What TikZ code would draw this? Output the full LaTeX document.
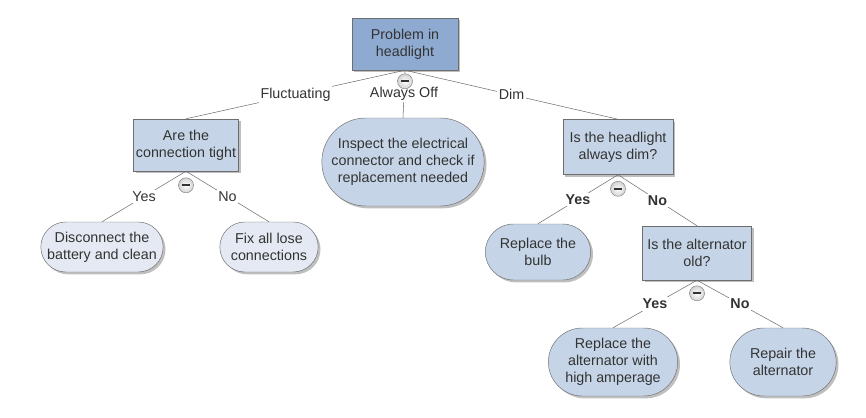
\documentclass[tikz,border=0pt]{standalone}
\usepackage{fontspec}
\setmainfont{Liberation Sans}
\usepackage{tikz}
\usetikzlibrary{positioning,calc,shapes.misc,shadows}
\definecolor{rootblue}{RGB}{142,170,208}
\definecolor{paleblue}{RGB}{197,213,231}
\definecolor{lightblue}{RGB}{228,233,243}
\definecolor{edgegray}{RGB}{110,110,110}
\definecolor{textgray}{RGB}{51,51,51}
\tikzstyle{boxshadow} = [drop shadow={shadow xshift=2pt, shadow yshift=-2pt, fill=black, opacity=0.25}]
\tikzstyle{rootbox} = [rectangle, draw=edgegray, fill=rootblue, boxshadow, text=textgray, align=center, inner sep=2pt]
\tikzstyle{question} = [rectangle, draw=edgegray, fill=paleblue, boxshadow, text=textgray, align=center, inner sep=2pt]
\tikzstyle{action} = [rounded rectangle, draw=edgegray, fill=paleblue, boxshadow, text=textgray, align=center, inner sep=2pt]
\tikzstyle{lightaction} = [rounded rectangle, draw=edgegray, fill=lightblue, boxshadow, text=textgray, align=center, inner sep=2pt]
\tikzstyle{branch} = [fill=white, text=textgray, inner sep=1.5pt]
\tikzstyle{connector} = [draw=edgegray, line width=0.45pt]
\tikzstyle{toggle} = [circle, draw=gray, inner color=white, outer color=gray!35, minimum size=0.45cm, inner sep=0pt,
  path picture={\draw[line width=2pt, black!80] ([xshift=-3pt]path picture bounding box.center) -- ([xshift=3pt]path picture bounding box.center);}]

\begin{document}
\begin{tikzpicture}[x=0.03cm, y=-0.03cm, font=\fontsize{12.2}{14.5}\selectfont]
            \useasboundingbox (0,0) rectangle (866,417);
            \node (root) [rootbox, minimum width=3.18cm, minimum height=1.56cm] at (405,44) {Problem in\\headlight};
            \node (tight) [question, minimum width=3.06cm, minimum height=1.56cm] at (186,145) {Are the\\connection tight};
            \node (inspect) [action, minimum width=5.01cm, minimum height=2.64cm] at (403,162) {Inspect the electrical\\connector and check if\\replacement needed};
            \node (dim) [question, minimum width=3.3cm, minimum height=1.65cm] at (618,147) {Is the headlight\\always dim?};
            \node (clean) [lightaction, minimum width=3.81cm, minimum height=1.5cm] at (102,247) {Disconnect the\\battery and clean};
            \node (fix) [lightaction, minimum width=3.09cm, minimum height=1.5cm] at (269,247) {Fix all lose\\connections};
            \node (bulb) [action, minimum width=3.3cm, minimum height=1.68cm] at (538,252) {Replace the\\bulb};
            \node (old) [question, minimum width=3.27cm, minimum height=1.62cm] at (697,253) {Is the alternator\\old?};
            \node (amp) [action, minimum width=4.02cm, minimum height=2.04cm] at (613,362) {Replace the\\alternator with\\high amperage};
            \node (repair) [action, minimum width=3.33cm, minimum height=2.04cm] at (783,362) {Repair the\\alternator};
            % branches
            \draw [connector] (root.south) -- node[branch] {Fluctuating} (tight.north);
            \draw [connector] (root.south) -- node[branch] {Always Off} (inspect.north);
            \draw [connector] (root.south) -- node[branch] {Dim} (dim.north);
            \draw [connector] (tight.south) -- node[branch] {Yes} (clean.north);
            \draw [connector] (tight.south) -- node[branch] {No} (fix.north);
            \draw [connector] (dim.south) -- node[branch] {\textbf{Yes}} (bulb.north);
            \draw [connector] (dim.south) -- node[branch] {\textbf{No}} (old.north);
            \draw [connector] (old.south) -- node[branch] {\textbf{Yes}} (amp.north);
            \draw [connector] (old.south) -- node[branch] {\textbf{No}} (repair.north);
            % collapse buttons
            \node (minusroot) [toggle, below=0.1cm of root.south] {};
            \node (minustight) [toggle, below=0.19cm of tight.south] {};
            \node (minusdim) [toggle, below=0.19cm of dim.south] {};
            \node (minusold) [toggle, below=0.16cm of old.south] {};
        \end{tikzpicture}
\end{document}
